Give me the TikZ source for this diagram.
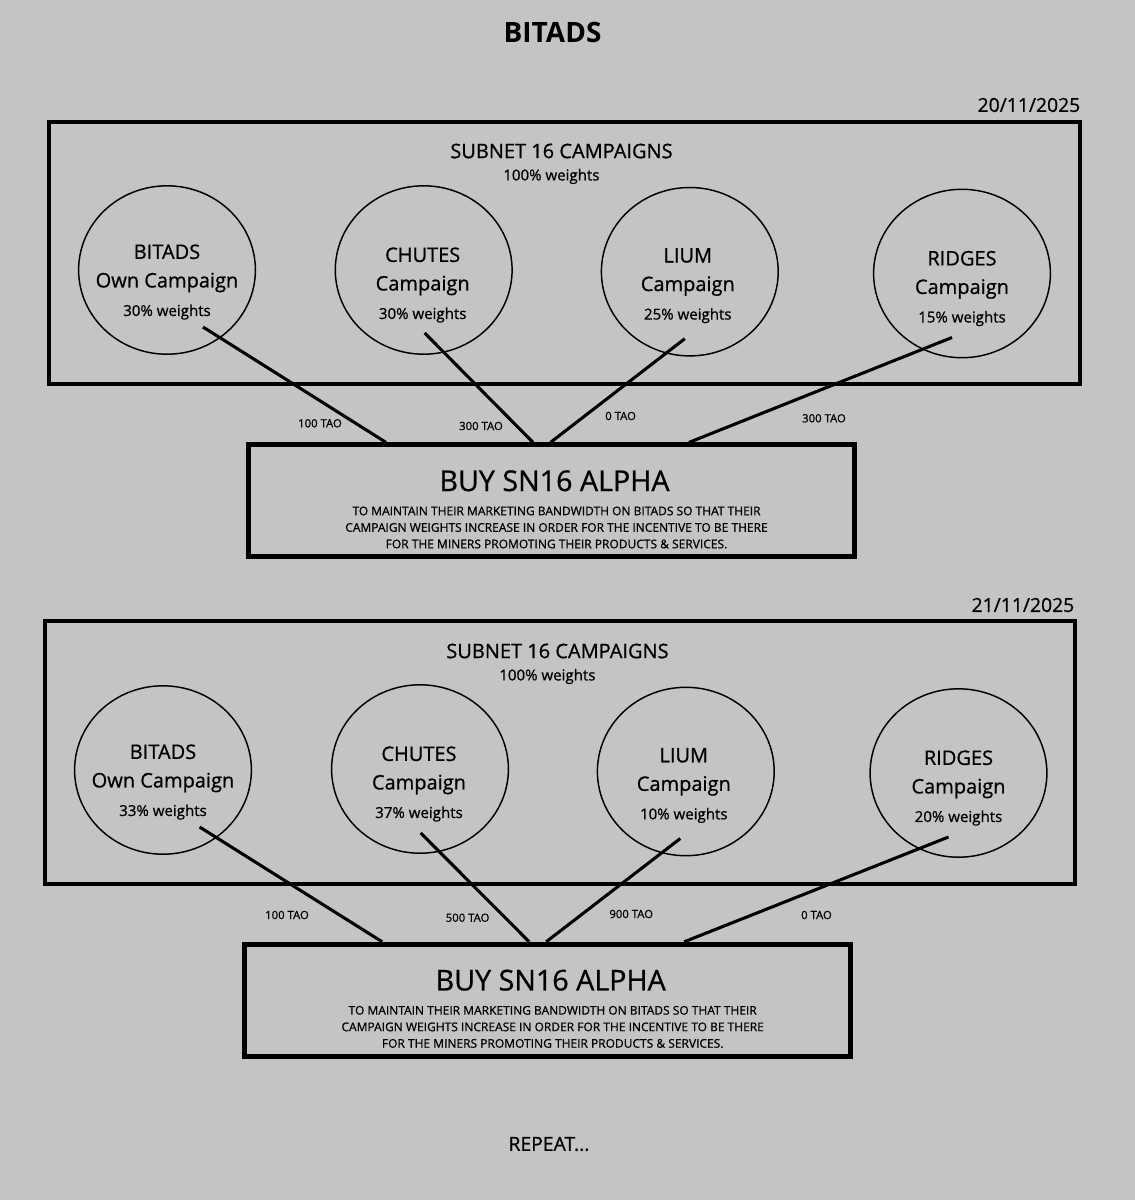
\documentclass[tikz,border=0pt]{standalone}
\usepackage{fontspec}
\setmainfont{Open Sans}[RawFeature={embolden=0.8}]
\newfontfamily\semifont{Open Sans}
\usepackage{tikz}
\usetikzlibrary{calc,positioning,shapes.geometric}
\definecolor{bggray}{RGB}{196,196,196}
\tikzset{
  camp/.style={draw,ellipse,line width=1.1pt,minimum width=132.6pt,minimum height=126.3pt,inner sep=0pt},
  camptext/.style={align=center,inner sep=0pt,font=\fontsize{15}{21.4}\selectfont},
  panel/.style={draw,line width=3pt},
  buybox/.style={draw,line width=3.8pt,minimum width=454.6pt,minimum height=83.8pt,inner sep=0pt},
  buytitle/.style={inner sep=0pt,font=\fontsize{21.5}{24}\selectfont},
  buytext/.style={align=center,inner sep=0pt,font=\fontsize{9}{12.4}\selectfont},
  subnet/.style={inner sep=0pt,font=\fontsize{15}{18}\selectfont},
  weightlbl/.style={inner sep=0pt,font=\fontsize{11.3}{13}\selectfont},
  datelbl/.style={inner sep=0pt,anchor=east,font=\fontsize{14.5}{17}\selectfont},
  tao/.style={inner sep=0pt,font=\fontsize{8.5}{10}\selectfont},
  link/.style={line width=2.3pt},
}
\newcommand{\pct}[1]{{\fontsize{11.3}{13}\selectfont #1}}
\newcommand{\buywhy}{TO MAINTAIN THEIR MARKETING BANDWIDTH ON BITADS SO THAT THEIR\\
  CAMPAIGN WEIGHTS INCREASE IN ORDER FOR THE INCENTIVE TO BE THERE\\
  FOR THE MINERS PROMOTING THEIR PRODUCTS \& SERVICES.}

\begin{document}
\begin{tikzpicture}[x=0.75pt,y=-0.75pt]
    \fill[bggray] (0,0) rectangle (1135,1200);
    \useasboundingbox (0,0) rectangle (1135,1200);

    \node[inner sep=0pt,font=\fontsize{21}{24}\semifont\bfseries] (title) at (552.5,32) {BITADS};

    % first day
    \begin{scope}
    \node[datelbl] (d1) at (1080.5,105) {20/11/2025};
    \draw[panel] (48.5,121.5) rectangle (1079.5,384);
    \node[subnet] (s1) at (561.5,151) {SUBNET 16 CAMPAIGNS};
    \node[weightlbl] (w1) at (551.4,176.5) {100\% weights};
    \node[camp] (a1) at (167,270) {};
    \node[camp] (a2) at (423.7,270) {};
    \node[camp] (a3) at (689.8,271.7) {};
    \node[camp] (a4) at (962,273.5) {};
    \node[camptext] (a1t) at ($(a1)+(0,12)$) {BITADS\\Own Campaign\\ \pct{30\% weights}};
    \node[camptext] (a2t) at ($(a2)+(-1,15)$) {CHUTES\\Campaign\\ \pct{30\% weights}};
    \node[camptext] (a3t) at ($(a3)+(-2,14)$) {LIUM\\Campaign\\ \pct{25\% weights}};
    \node[camptext] (a4t) at ($(a4)+(0,15)$) {RIDGES\\Campaign\\ \pct{15\% weights}};
    \node[buybox] (buy1) at (551.5,500.8) {};
    \node[buytitle] (buy1t) at ($(buy1)+(3,-20)$) {BUY SN16 ALPHA};
    \node[buytext] (buy1w) at ($(buy1)+(5,26.7)$) {\buywhy};
    \draw[link] ($(a1)+(36,57)$) -- ($(buy1.north)+(-165.5,0)$);
    \draw[link] ($(a2)+(1,63)$) -- ($(buy1.north)+(-18.5,0)$);
    \draw[link] ($(a3)+(-5,67)$) -- ($(buy1.north)+(-1,0)$);
    \draw[link] ($(a4)+(-10,64)$) -- ($(buy1.north)+(137.5,0)$);
    \node[tao] (t1) at (320,423.3) {100 TAO};
    \node[tao] (t2) at (481,426) {300 TAO};
    \node[tao] (t3) at (620.6,416) {0 TAO};
    \node[tao] (t4) at (824,418.3) {300 TAO};
    \end{scope}

    % second day
    \begin{scope}[shift={(-4,500)}]
    \node[datelbl] (d2) at (1078.5,105) {21/11/2025};
    \draw[panel] (48.5,121) rectangle (1079,384);
    \node[subnet] (s2) at (561.5,151) {SUBNET 16 CAMPAIGNS};
    \node[weightlbl] (w2) at (551.4,176.5) {100\% weights};
    \node[camp] (b1) at (167,270) {};
    \node[camp] (b2) at (424,269) {};
    \node[camp] (b3) at (689.8,271.5) {};
    \node[camp] (b4) at (962.5,273) {};
    \node[camptext] (b1t) at ($(b1)+(0,12)$) {BITADS\\Own Campaign\\ \pct{33\% weights}};
    \node[camptext] (b2t) at ($(b2)+(-1,15)$) {CHUTES\\Campaign\\ \pct{37\% weights}};
    \node[camptext] (b3t) at ($(b3)+(-2,14)$) {LIUM\\Campaign\\ \pct{10\% weights}};
    \node[camptext] (b4t) at ($(b4)+(0,15)$) {RIDGES\\Campaign\\ \pct{20\% weights}};
    \node[buybox] (buy2) at (551.7,500.2) {};
    \node[buytitle] (buy2t) at ($(buy2)+(3,-20)$) {BUY SN16 ALPHA};
    \node[buytext] (buy2w) at ($(buy2)+(5,26.7)$) {\buywhy};
    \draw[link] ($(b1)+(36.6,57)$) -- ($(buy2.north)+(-165.5,0)$);
    \draw[link] ($(b2)+(0.7,64)$) -- ($(buy2.north)+(-18.5,0)$);
    \draw[link] ($(b3)+(-5.5,67)$) -- ($(buy2.north)+(-1.5,0)$);
    \draw[link] ($(b4)+(-10,64)$) -- ($(buy2.north)+(136.5,0)$);
    \node[tao] (u1) at (291,415) {100 TAO};
    \node[tao] (u2) at (471.6,417.7) {500 TAO};
    \node[tao] (u3) at (635.2,414) {900 TAO};
    \node[tao] (u4) at (820.5,415) {0 TAO};
    \end{scope}

    \node[inner sep=0pt,font=\fontsize{14.5}{17}\selectfont] (rep) at (549,1144) {REPEAT...};
\end{tikzpicture}
\end{document}
